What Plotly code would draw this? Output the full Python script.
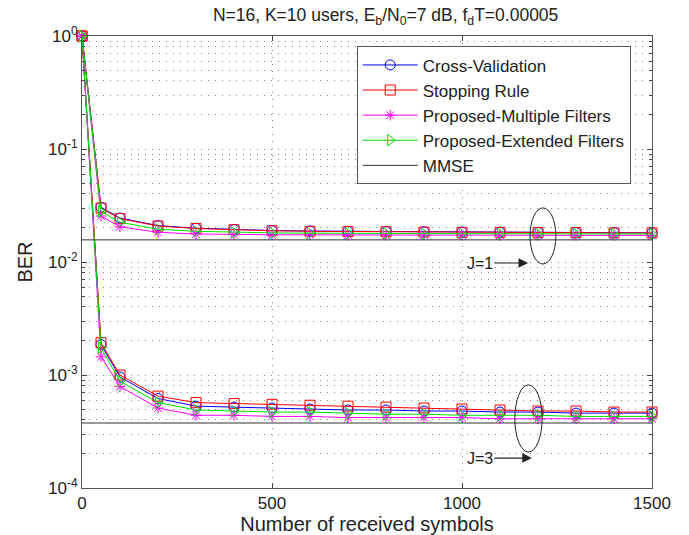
import plotly.graph_objects as go

# ---------------- data ----------------
symbols = [0, 50, 100, 200, 300, 400, 500, 600, 700, 800, 900, 1000, 1100, 1200, 1300, 1400, 1500]

cv_j1   = [1.0, 0.0305, 0.0245, 0.0210, 0.0199, 0.0194, 0.0190, 0.0188, 0.0187, 0.0186, 0.0185, 0.0184, 0.0183, 0.0183, 0.0182, 0.0182, 0.0181]
sr_j1   = [1.0, 0.0300, 0.0242, 0.0208, 0.0198, 0.0193, 0.0189, 0.0187, 0.0186, 0.0185, 0.0184, 0.0183, 0.0183, 0.0182, 0.0182, 0.0181, 0.0181]
pmf_j1  = [1.0, 0.0255, 0.0205, 0.0183, 0.0177, 0.0175, 0.0174, 0.0174, 0.0173, 0.0173, 0.0173, 0.0173, 0.0172, 0.0172, 0.0172, 0.0172, 0.0172]
pef_j1  = [1.0, 0.0280, 0.0225, 0.0195, 0.0187, 0.0183, 0.0181, 0.0180, 0.0179, 0.0179, 0.0178, 0.0178, 0.0178, 0.0177, 0.0177, 0.0177, 0.0177]

cv_j3   = [1.0, 0.00186, 0.00096, 0.00062, 0.00053, 0.00052, 0.00051, 0.00050, 0.00049, 0.00049, 0.00048, 0.00048, 0.00047, 0.00047, 0.00046, 0.00046, 0.00046]
sr_j3   = [1.0, 0.00193, 0.00100, 0.00065, 0.00057, 0.00056, 0.00055, 0.00054, 0.00053, 0.00052, 0.00051, 0.00050, 0.00049, 0.00048, 0.00048, 0.00047, 0.00047]
pmf_j3  = [1.0, 0.00145, 0.00079, 0.00051, 0.00044, 0.00044, 0.00043, 0.00043, 0.00042, 0.00042, 0.00042, 0.00042, 0.00041, 0.00041, 0.00041, 0.00041, 0.00041]
pef_j3  = [1.0, 0.00174, 0.00088, 0.00057, 0.00049, 0.00048, 0.00047, 0.00047, 0.00046, 0.00045, 0.00045, 0.00044, 0.00044, 0.00044, 0.00043, 0.00043, 0.00043]

mmse_j1 = 0.0157
mmse_j3 = 0.000376

series_names = ["Cross-Validation", "Stopping Rule", "Proposed-Multiple Filters", "Proposed-Extended Filters"]

x_ticks = [0, 500, 1000, 1500]
y_ticks = [1e-4, 1e-3, 1e-2, 1e-1, 1e0]
y_tick_labels = ["10<sup>-4</sup>", "10<sup>-3</sup>", "10<sup>-2</sup>", "10<sup>-1</sup>", "10<sup>0</sup>"]

# ---------------- figure ----------------
styles = [
    dict(color="#0000ff", symbol="circle-open", size=10),
    dict(color="#ff0000", symbol="square-open", size=10),
    dict(color="#ff00ff", symbol="asterisk-open", size=9),
    dict(color="#00e000", symbol="triangle-right-open", size=10),
]
j1_sets = [cv_j1, sr_j1, pmf_j1, pef_j1]
j3_sets = [cv_j3, sr_j3, pmf_j3, pef_j3]

fig = go.Figure()
for name, st, y1, y3 in zip(series_names, styles, j1_sets, j3_sets):
    for k, yy in enumerate([y1, y3]):
        fig.add_trace(go.Scatter(
            x=symbols, y=yy, mode="lines+markers", name=name,
            legendgroup=name, showlegend=(k == 0), cliponaxis=False,
            line=dict(color=st["color"], width=1),
            marker=dict(symbol=st["symbol"], size=st["size"], color=st["color"],
                        line=dict(color=st["color"], width=1)),
        ))

for k, m in enumerate([mmse_j1, mmse_j3]):
    fig.add_trace(go.Scatter(
        x=[symbols[0], symbols[-1]], y=[m, m], mode="lines", name="MMSE",
        legendgroup="MMSE", showlegend=(k == 0),
        line=dict(color="#333333", width=1),
    ))

# minor log tick positions
minor_vals = [m * 10 ** e for e in range(-4, 0) for m in range(2, 10)]

FONT = "Liberation Sans, Arial, Helvetica, sans-serif"
fig.update_layout(
    width=689, height=535,
    margin=dict(l=82, r=37, t=36, b=47, autoexpand=False),
    paper_bgcolor="white", plot_bgcolor="white",
    font=dict(family=FONT, size=17, color="#222"),
    title=dict(text="N=16, K=10 users, E<sub>b</sub>/N<sub>0</sub>=7 dB, f<sub>d</sub>T=0.00005",
               x=(82 + 652) / 2 / 689, xref="paper", xanchor="center",
               y=1 - 15 / 535, yanchor="middle", font=dict(size=17.5)),
    showlegend=True,
    legend=dict(x=0.482, y=0.977, xanchor="left", yanchor="top",
                bgcolor="white", bordercolor="#555", borderwidth=1,
                font=dict(size=17), itemwidth=55, tracegroupgap=0),
)

GRID = "#888"
fig.update_xaxes(
    range=[0, 1500], tickmode="array", tickvals=x_ticks, automargin=False,
    ticks="inside", ticklen=5, tickcolor="#444",
    showline=True, linecolor="#555", linewidth=1, mirror="ticks",
    showgrid=True, gridcolor=GRID, griddash="1px,6px", gridwidth=1,
    zeroline=False,
    title=dict(text="Number of received symbols", standoff=4),
)

fig.update_yaxes(
    type="log", range=[-4, 0], tickmode="array", tickvals=y_ticks, ticktext=y_tick_labels,
    automargin=False,
    ticks="inside", ticklen=5, tickcolor="#444",
    showline=True, linecolor="#555", linewidth=1, mirror="ticks",
    showgrid=True, gridcolor=GRID, griddash="1px,6px", gridwidth=1,
    minor=dict(tickvals=minor_vals, ticks="inside", ticklen=3, tickcolor="#444",
               showgrid=True, gridcolor=GRID, griddash="1px,6px", gridwidth=1),
    zeroline=False,
    title=dict(text="BER", standoff=10),
)

# ellipses (shapes on log axis take data values)
fig.add_shape(type="circle", xref="x", yref="y", x0=1179, x1=1247, y0=0.0096, y1=0.0301,
              line=dict(color="#222", width=1))
fig.add_shape(type="circle", xref="x", yref="y", x0=1139, x1=1211, y0=0.000208, y1=0.000817,
              line=dict(color="#222", width=1))

# labels with arrows (annotations on log axis take log values)
fig.add_annotation(x=1174, y=-2.009, ax=1047, ay=-2.009, axref="x", ayref="y", xref="x", yref="y",
                   text="J=1", showarrow=True, arrowhead=2, arrowsize=1.6, arrowwidth=1.2,
                   arrowcolor="#222", font=dict(size=16, color="#222"))
fig.add_annotation(x=1184, y=-3.735, ax=1047, ay=-3.735, axref="x", ayref="y", xref="x", yref="y",
                   text="J=3", showarrow=True, arrowhead=2, arrowsize=1.6, arrowwidth=1.2,
                   arrowcolor="#222", font=dict(size=16, color="#222"))

fig.write_html(
    "out.html",
    config={"displayModeBar": False},
    post_script="document.body.style.margin='0';document.body.style.overflow='hidden';",
)
